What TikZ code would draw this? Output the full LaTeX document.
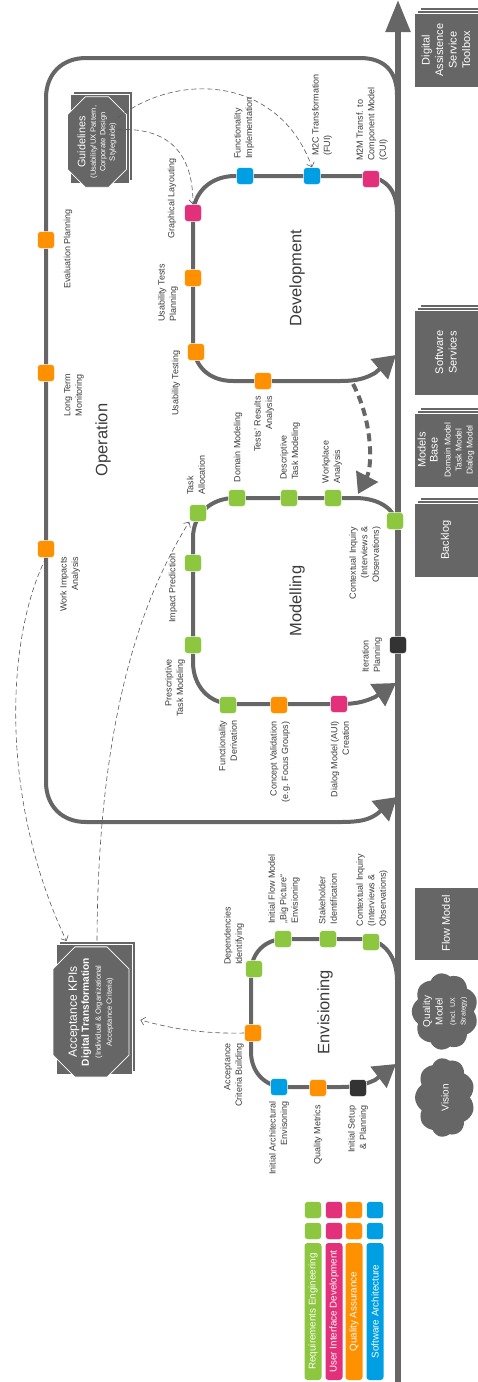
\documentclass[tikz,border=0pt]{standalone}
\usepackage{fontspec}
\setmainfont{Liberation Sans}
\usetikzlibrary{arrows.meta,positioning,calc,shapes.misc,shapes.symbols}
\definecolor{trackgray}{HTML}{666666}
\definecolor{cardgray}{HTML}{666666}
\definecolor{labelgray}{HTML}{3C3C3C}
\definecolor{regreen}{HTML}{8DC63F}
\definecolor{uipink}{HTML}{E3307A}
\definecolor{qaorange}{HTML}{FF9100}
\definecolor{sablue}{HTML}{009FE3}
\definecolor{pmblack}{HTML}{333333}

\begin{document}
\begin{tikzpicture}[x=1pt,y=-1pt,
  track/.style={line width=4pt,draw=trackgray},
  trackin/.style={track,-{Triangle[length=22pt,width=26pt]}},
  timeline/.style={line width=5.5pt,draw=trackgray,-{Triangle[length=32pt,width=24pt]}},
  feedback/.style={line width=4pt,draw=trackgray,dash pattern=on 8pt off 5pt,
                   -{Triangle[length=20pt,width=24pt]}},
  hint/.style={draw=black!65,line width=0.6pt,dash pattern=on 5pt off 3pt,
               -{Straight Barb[length=4pt,width=8pt]}},
  act/.style={rectangle,rounded corners=3pt,minimum size=17pt,inner sep=0pt,
              draw=white,line width=0.5pt},
  re/.style={act,fill=regreen},
  ui/.style={act,fill=uipink},
  qa/.style={act,fill=qaorange},
  sa/.style={act,fill=sablue},
  pm/.style={act,fill=pmblack},
  lbl/.style={rotate=90,inner sep=0pt,text=labelgray,align=center,
              font=\fontsize{9}{11.5}\selectfont},
  phase/.style={rotate=90,inner sep=0pt,text=labelgray,
                font=\fontsize{16.5}{18}\selectfont},
  card/.style={rectangle,rotate=90,fill=cardgray,draw=white,line width=0.8pt,
               inner sep=0pt,text=white,align=center,
               font=\fontsize{11}{13.5}\selectfont},
  docket/.style={card,chamfered rectangle,chamfered rectangle xsep=9pt,
                 chamfered rectangle ysep=9pt},
  cloudy/.style={cloud,cloud puffs=9,cloud puff arc=110,cloud ignores aspect,
                 rotate=90,fill=cardgray,inner sep=0pt,text=white,align=center,
                 font=\fontsize{10}{12.5}\selectfont},
  legbar/.style={rectangle,rounded corners=3pt,rotate=90,minimum width=137pt,
                 minimum height=17pt,inner sep=0pt,text=white,
                 font=\fontsize{9.8}{11}\selectfont}
]
\useasboundingbox (0,0) rectangle (477,1382);

  % ---- Loops --------------------------------------------------
  % Operation
  \draw[trackin] (397,95) .. controls (397,72) and (385,58) .. (360,58) -- (86,58)
    .. controls (62,58) and (46,74) .. (46,98) -- (46,782)
    .. controls (46,806) and (62,822) .. (86,822) -- (340,822)
    .. controls (360,822) and (368,820) .. (377,814) -- (397,797);
  % Development
  \draw[trackin] (397,212) .. controls (397,190) and (385,176) .. (362,176) -- (235,176)
    .. controls (211,176) and (193,192) .. (193,216) -- (193,342)
    .. controls (193,366) and (209,381) .. (233,381) -- (340,381)
    .. controls (358,381) and (366,378) .. (375,373) -- (396,355);
  % Modelling
  \draw[trackin] (397,528) .. controls (397,510) and (380,498) .. (355,498) -- (235,498)
    .. controls (211,498) and (193,514) .. (193,538) -- (193,662)
    .. controls (193,686) and (209,704) .. (233,704) -- (340,704)
    .. controls (358,704) and (366,701) .. (375,697) -- (396,683);
  % Envisioning
  \draw[trackin] (397,980) .. controls (397,958) and (385,939) .. (362,939) -- (285,939)
    .. controls (265,939) and (251,953) .. (251,973) -- (251,1052)
    .. controls (251,1072) and (265,1087) .. (285,1087) -- (340,1087)
    .. controls (358,1087) and (366,1084) .. (375,1080) -- (396,1064);

  % Time line
  \coordinate (tstart) at (398,1382);
  \coordinate (tend) at (398,0);
  \draw[timeline] (tstart) -- (tend);

  % Development -> Modelling feedback
  \coordinate (devexit) at (353,384);
  \coordinate (modentry) at (358,494);
  \draw[feedback] (devexit) .. controls (372,420) and (373,465) .. (modentry);

  % ---- Phase titles -------------------------------------------
  \node[phase] (t-op)  at (103,440)  {Operation};
  \node[phase] (t-dev) at (297,278)  {Development};
  \node[phase] (t-mod) at (297,601)  {Modelling};
  \node[phase] (t-env) at (325,1012) {Envisioning};

  % ---- Operation activities -----------------------------------
  \node[qa] (op-eval) at (46,240) {};
  \node[lbl] at (68,249) {Evaluation Planning};
  \node[qa] (op-ltm) at (46,373) {};
  \node[lbl,align=left] at (74,395) {Long Term\\Monitoring};
  \node[qa] (op-wia) at (46,549) {};
  \node[lbl,align=right] at (70,584) {Work Impacts\\Analysis};

  % ---- Development activities ---------------------------------
  \node[ui] (dev-gl) at (193,213) {};
  \node[lbl] at (172,198) {Graphical Layouting};
  \node[qa] (dev-utp) at (193,278) {};
  \node[lbl,align=left] at (168,293) {Usability Tests\\Planning};
  \node[qa] (dev-ut) at (196,352) {};
  \node[lbl] at (176,383) {Usability Testing};
  \node[qa] (dev-tra) at (263,381) {};
  \node[lbl,align=right] at (264,424) {Tests’ Results\\Analysis};
  \node[sa] (dev-fi) at (245,176) {};
  \node[lbl,align=left] at (244,128) {Functionality\\Implementation};
  \node[sa] (dev-m2c) at (312,176) {};
  \node[lbl,align=left] at (322,115) {M2C Transformation\\(FUI)};
  \node[ui] (dev-m2m) at (371,179) {};
  \node[lbl,align=left] at (372,124) {M2M Transf. to\\Component Model\\(CUI)};

  % ---- Modelling activities -----------------------------------
  \node[re] (mod-ta) at (198,513) {};
  \node[lbl,align=left] at (196,475) {Task\\Allocation};
  \node[re] (mod-dm) at (237,498) {};
  \node[lbl] at (238,447) {Domain Modeling};
  \node[re] (mod-dtm) at (289,498) {};
  \node[lbl,align=left] at (290,451) {Descriptive\\Task Modeling};
  \node[re] (mod-wa) at (333,498) {};
  \node[lbl,align=left] at (332,462) {Workplace\\Analysis};
  \node[re] (mod-ci) at (395,521) {};
  \node[lbl,align=right] at (365,563) {Contextual Inquiry\\(Interviews \&\\Observations)};
  \node[re] (mod-ip) at (193,563) {};
  \node[lbl] at (173,588) {Impact Prediction};
  \node[re] (mod-ptm) at (193,645) {};
  \node[lbl,align=right] at (175,688) {Prescriptive\\Task Modeling};
  \node[re] (mod-fd) at (228,705) {};
  \node[lbl,align=right] at (228,746) {Functionality\\Derivation};
  \node[qa] (mod-cv) at (279,705) {};
  \node[lbl,align=right] at (280,762) {Concept Validation\\(e.g. Focus Groups)};
  \node[ui] (mod-dmc) at (339,704) {};
  \node[lbl,align=right] at (340,759) {Dialog Model (AUI)\\Creation};
  \node[pm] (mod-itp) at (398,645) {};
  \node[lbl,align=left] at (372,655) {Iteration\\Planning};

  % ---- Envisioning activities ---------------------------------
  \node[qa] (env-acb) at (253,1033) {};
  \node[lbl,align=right] at (234,1075) {Acceptance\\Criteria Building};
  \node[re] (env-di) at (254,969) {};
  \node[lbl,align=left] at (234,936) {Dependencies\\Identifying};
  \node[re] (env-ifm) at (283,939) {};
  \node[lbl,align=left] at (284,889) {Initial Flow Model\\„Big Picture“\\Envisioning};
  \node[re] (env-si) at (328,939) {};
  \node[lbl,align=left] at (328,899) {Stakeholder\\Identification};
  \node[re] (env-ci) at (371,942) {};
  \node[lbl,align=left] at (372,890) {Contextual Inquiry\\(Interviews \&\\Observations)};
  \node[sa] (env-iae) at (279,1087) {};
  \node[lbl,align=right] at (279,1138) {Initial Architectural\\Envisoning};
  \node[qa] (env-qm) at (318,1088) {};
  \node[lbl] at (318,1135) {Quality Metrics};
  \node[pm] (env-isp) at (358,1088) {};
  \node[lbl,align=right] at (358,1129) {Initial Setup\\\& Planning};

  % ---- Guidelines and KPIs ------------------------------------
  \node[docket,minimum width=89pt,minimum height=59pt] (guide-s2) at (103,136) {};
  \node[docket,minimum width=89pt,minimum height=59pt] (guide-s1) at (100,139) {};
  \node[docket,minimum width=89pt,minimum height=59pt,font=\fontsize{7.6}{9.5}\selectfont]
    (guide) at (97,142)
    {{\fontsize{10.8}{12}\selectfont Guidelines}\\[1pt](Usability/UX Pattern,\\Corporate Design\\Styleguide)};

  \node[docket,minimum width=130pt,minimum height=76pt,chamfered rectangle xsep=11pt,
        chamfered rectangle ysep=11pt] (kpi-s2) at (97,1006) {};
  \node[docket,minimum width=130pt,minimum height=76pt,chamfered rectangle xsep=11pt,
        chamfered rectangle ysep=11pt] (kpi-s1) at (94,1009) {};
  \node[docket,minimum width=130pt,minimum height=76pt,chamfered rectangle xsep=11pt,
        chamfered rectangle ysep=11pt,font=\fontsize{10.2}{12}\selectfont]
    (kpi) at (91,1012)
    {{\fontsize{12}{14}\selectfont Acceptance KPIs}\\{\bfseries Digital Transformation}\\
     {\fontsize{7.6}{9}\selectfont (Individual \& Organizational}\\[-1pt]
     {\fontsize{7.6}{9}\selectfont Acceptance Criteria)}};

  % Dashed hints
  \draw[hint] ($(guide.south east)!0.17!(guide.south west)$)
    .. controls (180,70) and (280,78) .. (dev-m2c.north);
  \draw[hint] ($(guide.south east)!0.33!(guide.south west)$)
    .. controls (175,127) and (193,160) .. (dev-gl.north);
  \draw[hint] (op-wia.south) .. controls (5,640) and (0,800)
    .. ($(kpi-s2.north east)!0.1!(kpi-s2.south east)$);
  \draw[hint] (kpi-s2.east) .. controls (98,700) and (150,585) .. (mod-ta.south west);
  \draw[hint] (env-acb.west) .. controls (200,1034) and (170,1028)
    .. ([shift={(11,8)}]kpi.south);

  % ---- Artefacts along the time line --------------------------
  \node[card,minimum width=74pt,minimum height=64pt] (dat-s2) at (452,44) {};
  \node[card,minimum width=74pt,minimum height=64pt] (dat-s1) at (449,47) {};
  \node[card,minimum width=74pt,minimum height=64pt] (dat) at (446,50)
    {Digital\\Assistence\\Service\\Toolbox};

  \node[card,minimum width=85pt,minimum height=64pt] (sws-s2) at (452,346.5) {};
  \node[card,minimum width=85pt,minimum height=64pt] (sws-s1) at (449,349.5) {};
  \node[card,minimum width=85pt,minimum height=64pt] (sws) at (446,352.5)
    {Software\\Services};

  \node[card,minimum width=74pt,minimum height=64pt] (mb-s2) at (452,444) {};
  \node[card,minimum width=74pt,minimum height=64pt] (mb-s1) at (449,447) {};
  \node[card,minimum width=74pt,minimum height=64pt,font=\fontsize{11}{12}\selectfont]
    (mb) at (446,450)
    {Models\\Base\\[1pt]{\fontsize{8.5}{10}\selectfont Domain Model}\\[-1pt]
     {\fontsize{8.5}{10}\selectfont Task Model}\\[-1pt]
     {\fontsize{8.5}{10}\selectfont Dialog Model}};

  \node[card,minimum width=74pt,minimum height=64pt] (bl-s2) at (452,534) {};
  \node[card,minimum width=74pt,minimum height=64pt] (bl-s1) at (449,537) {};
  \node[card,minimum width=74pt,minimum height=64pt] (bl) at (446,540) {Backlog};

  \node[card,minimum width=73pt,minimum height=64pt] (fm) at (446,923.5) {Flow Model};

  \node[cloudy,minimum width=77pt,minimum height=60pt] (qmc) at (445,1011.5)
    {Quality\\Model\\{\fontsize{7}{8.5}\selectfont (incl. UX}\\[-2pt]
     {\fontsize{7}{8.5}\selectfont Strategy)}};
  \node[cloudy,minimum width=79pt,minimum height=60pt] (vis) at (445,1097.5) {Vision};

  % ---- Legend -------------------------------------------------
  \node[re] (leg-re1) at (313,1210) {};
  \node[re] (leg-re2) at (313,1231) {};
  \node[legbar,fill=regreen] (leg-re) at (313,1311.5) {Requirements Engineering};
  \node[ui] (leg-ui1) at (334,1210) {};
  \node[ui] (leg-ui2) at (334,1231) {};
  \node[legbar,fill=uipink] (leg-ui) at (334,1311.5) {User Interface Development};
  \node[qa] (leg-qa1) at (354,1210) {};
  \node[qa] (leg-qa2) at (354,1231) {};
  \node[legbar,fill=qaorange] (leg-qa) at (354,1311.5) {Quality Assurance};
  \node[sa] (leg-sa1) at (375,1210) {};
  \node[sa] (leg-sa2) at (375,1231) {};
  \node[legbar,fill=sablue] (leg-sa) at (375,1311.5) {Software Architecture};

\end{tikzpicture}
\end{document}
